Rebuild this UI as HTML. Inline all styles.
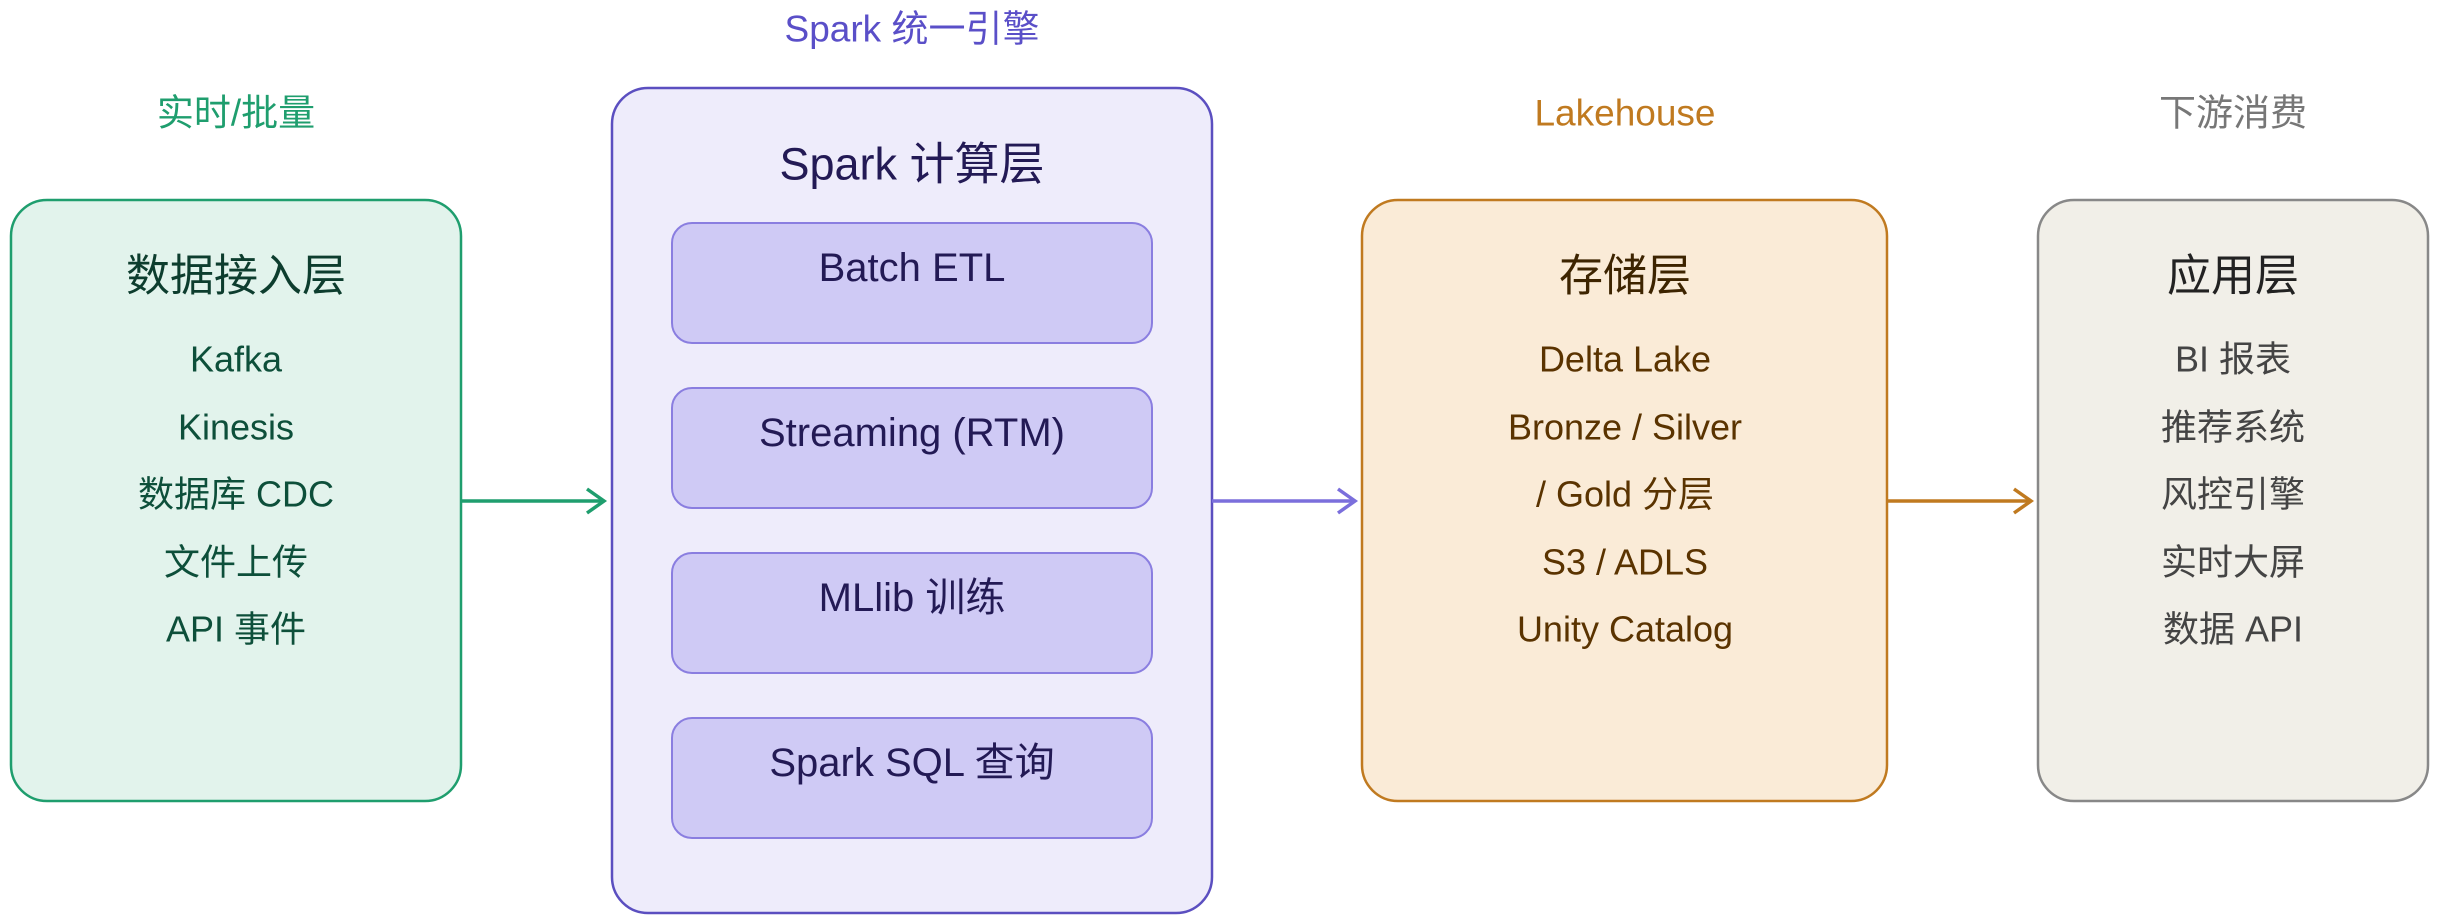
<!DOCTYPE html>
<html><head><meta charset="utf-8"><style>
html,body{margin:0;padding:0;background:#fff;}
svg{display:block;}
text{font-family:"Liberation Sans","Noto Sans CJK SC",sans-serif;text-anchor:middle;dominant-baseline:central;}
</style></head><body>
<svg width="2440" height="924" viewBox="0 0 2440 924" xmlns="http://www.w3.org/2000/svg">
<text x="236" y="113" font-size="37" fill="#1f9e6e">实时/批量</text>
<text x="912" y="29" font-size="37" fill="#5a4fc8">Spark 统一引擎</text>
<text x="1625" y="113" font-size="37" fill="#c07a20">Lakehouse</text>
<text x="2233" y="113" font-size="37" fill="#777">下游消费</text>

<rect x="11" y="200" width="450" height="601" rx="36" fill="#e2f3ec" stroke="#1f9e6e" stroke-width="2.5"/>
<text x="236" y="276" font-size="44" fill="#0d3d2e">数据接入层</text>
<g font-size="36" fill="#0d4f3a">
<text x="236" y="359">Kafka</text>
<text x="236" y="427">Kinesis</text>
<text x="236" y="494">数据库 CDC</text>
<text x="236" y="562">文件上传</text>
<text x="236" y="629">API 事件</text>
</g>
<line x1="461" y1="501" x2="603" y2="501" stroke="#1f9e6e" stroke-width="3.5"/>
<polyline points="587,489 604,501 587,513" fill="none" stroke="#1f9e6e" stroke-width="3.5"/>

<rect x="612" y="88" width="600" height="825" rx="36" fill="#eeecfb" stroke="#5b4fc0" stroke-width="2.5"/>
<text x="912" y="164" font-size="45" fill="#231a55">Spark 计算层</text>
<g fill="#cfcaf5" stroke="#8a7ee0" stroke-width="2">
<rect x="672" y="223" width="480" height="120" rx="20"/>
<rect x="672" y="388" width="480" height="120" rx="20"/>
<rect x="672" y="553" width="480" height="120" rx="20"/>
<rect x="672" y="718" width="480" height="120" rx="20"/>
</g>
<g font-size="40" fill="#231a55">
<text x="912" y="268">Batch ETL</text>
<text x="912" y="433">Streaming (RTM)</text>
<text x="912" y="598">MLlib 训练</text>
<text x="912" y="763">Spark SQL 查询</text>
</g>
<line x1="1212" y1="501" x2="1354" y2="501" stroke="#7b6fdc" stroke-width="3.5"/>
<polyline points="1338,489 1355,501 1338,513" fill="none" stroke="#7b6fdc" stroke-width="3.5"/>

<rect x="1362" y="200" width="525" height="601" rx="36" fill="#faebd7" stroke="#c07a20" stroke-width="2.5"/>
<text x="1625" y="276" font-size="44" fill="#3d2400">存储层</text>
<g font-size="36" fill="#5a3300">
<text x="1625" y="359">Delta Lake</text>
<text x="1625" y="427">Bronze / Silver</text>
<text x="1625" y="494">/ Gold 分层</text>
<text x="1625" y="562">S3 / ADLS</text>
<text x="1625" y="629">Unity Catalog</text>
</g>
<line x1="1887" y1="501" x2="2030" y2="501" stroke="#c07a20" stroke-width="3.5"/>
<polyline points="2014,489 2031,501 2014,513" fill="none" stroke="#c07a20" stroke-width="3.5"/>

<rect x="2038" y="200" width="390" height="601" rx="36" fill="#f1efe8" stroke="#888" stroke-width="2.5"/>
<text x="2233" y="276" font-size="44" fill="#222">应用层</text>
<g font-size="36" fill="#444">
<text x="2233" y="359">BI 报表</text>
<text x="2233" y="427">推荐系统</text>
<text x="2233" y="494">风控引擎</text>
<text x="2233" y="562">实时大屏</text>
<text x="2233" y="629">数据 API</text>
</g>
</svg>
</body></html>
